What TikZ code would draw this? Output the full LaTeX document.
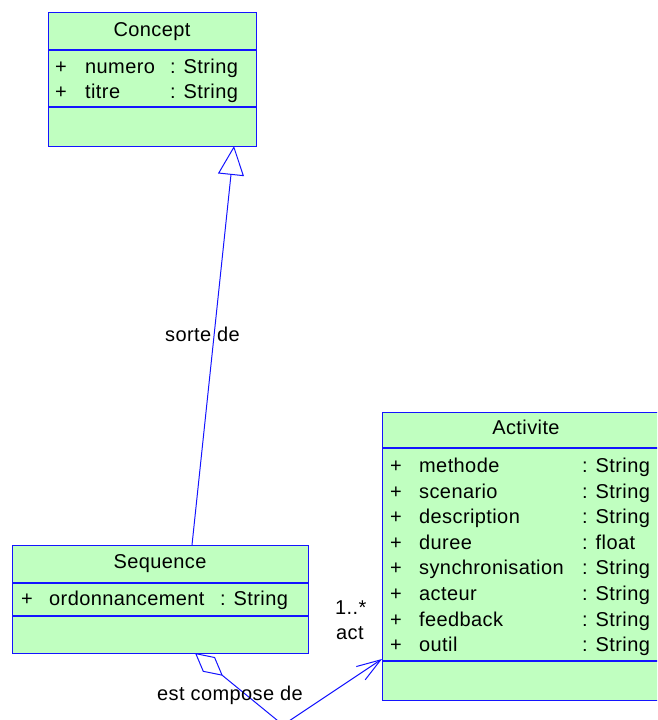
\documentclass[tikz,border=0pt]{standalone}
\usepackage{fontspec}
\setmainfont{Liberation Sans}[LetterSpace=2]
\usetikzlibrary{arrows.meta}
\definecolor{umlblue}{RGB}{20,20,255}
\definecolor{umlgreen}{RGB}{192,255,192}
\tikzset{
  umlbox/.style={draw=umlblue, fill=umlgreen, line width=1.1pt, inner sep=0pt, anchor=north west},
  sepline/.style={draw=umlblue, line width=1.1pt},
  txt/.style={inner sep=0pt, anchor=base west, font=\fontsize{20}{23}\selectfont},
  ctxt/.style={inner sep=0pt, anchor=base, font=\fontsize{20}{23}\selectfont},
  conn/.style={draw=umlblue, line width=1pt},
}
\begin{document}
\begin{tikzpicture}[x=1pt,y=-1pt]
\useasboundingbox (0,0) rectangle (657,720);
\clip (0,0) rectangle (657,720);
% Concept
\node[umlbox, minimum width=208pt, minimum height=134pt] (concept) at (48,12) {};
\draw[sepline] (48,50) -- (256,50);
\draw[sepline] (48,107) -- (256,107);
\node[ctxt] (cT) at (152,36) {Concept};
\node[txt] (c1p) at (55,73) {+};
\node[txt] (c1n) at (85,73) {numero};
\node[txt] (c1t) at (170,73) {: String};
\node[txt] (c2p) at (55,98) {+};
\node[txt] (c2n) at (85,98) {titre};
\node[txt] (c2t) at (170,98) {: String};
% Sequence
\node[umlbox, minimum width=296pt, minimum height=108pt] (seq) at (12,545) {};
\draw[sepline] (12,583) -- (308,583);
\draw[sepline] (12,616) -- (308,616);
\node[ctxt] (sT) at (160,568) {Sequence};
\node[txt] (s1p) at (21,605) {+};
\node[txt] (s1n) at (49,605) {ordonnancement};
\node[txt] (s1t) at (220,605) {: String};
% Activite
\node[umlbox, minimum width=300pt, minimum height=288pt] (act) at (382,412) {};
\draw[sepline] (382,448) -- (682,448);
\draw[sepline] (382,661) -- (682,661);
\node[ctxt] (aT) at (526,434) {Activite};
\foreach \i/\n/\t in {0/methode/String,1/scenario/String,2/description/String,3/duree/float,4/synchronisation/String,5/acteur/String,6/feedback/String,7/outil/String}{
  \node[txt] (ap\i) at (390,{472.5+25.6*\i}) {+};
  \node[txt] (an\i) at (419,{472.5+25.6*\i}) {\n};
  \node[txt] (at\i) at (582,{472.5+25.6*\i}) {: \t};
}
% inheritance
\coordinate (inhS) at (192,545);
\coordinate (inhT) at (234,146);
\draw[conn, -{Triangle[open, length=29pt, width=26pt, line width=1pt]}] (inhS) -- (inhT);
\node[txt] (lsorte) at (165,341) {sorte de};
% aggregation
\coordinate (aggS) at (195,653);
\coordinate (aggB) at (283,725);
\coordinate (aggE) at (382,659);
\draw[conn, {Diamond[open, length=36pt, width=19pt, line width=1pt]}-{Straight Barb[length=24pt, width=16pt, line width=1pt]}] (aggS) -- (aggB) -- (aggE);
\node[txt] (lest) at (157,700) {est compose de};
\node[txt] (lmult) at (335,614) {1..*};
\node[txt] (lact) at (336,639) {act};
\end{tikzpicture}
\end{document}
